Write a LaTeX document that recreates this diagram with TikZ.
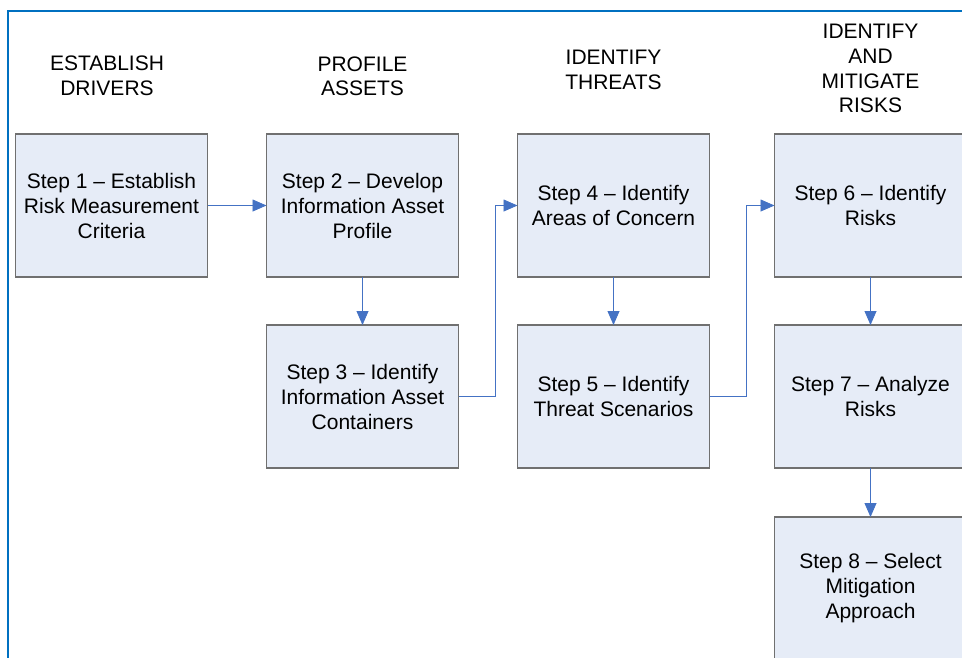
\documentclass[tikz,border=0pt]{standalone}
\usepackage{fontspec}
\setmainfont{Liberation Sans}
\usetikzlibrary{arrows.meta,positioning}
\definecolor{stepfill}{RGB}{230,236,247}
\definecolor{stepdraw}{RGB}{112,112,112}
\definecolor{arrblue}{RGB}{68,114,196}
\definecolor{frameblue}{RGB}{0,112,192}
\tikzset{
  stepbox/.style={draw=stepdraw, fill=stepfill, line width=1.2pt, align=center,
                  minimum width=192pt, minimum height=143pt, inner sep=2pt,
                  outer sep=0pt, font=\fontsize{21}{25}\selectfont},
  phase/.style  ={align=center, inner sep=0pt, text depth=0pt,
                  font=\fontsize{21}{24.7}\selectfont},
  arr/.style    ={-{Triangle[length=14pt,width=12pt]}, color=arrblue,
                  line width=0.8pt},
}

\begin{document}
\begin{tikzpicture}[x=1pt,y=-1pt]
  \useasboundingbox (0,0) rectangle (962,657);
  \clip (0,0) rectangle (962,657);
  \draw[frameblue, line width=2.2pt] (8,11) rectangle (1000,700);
  % steps
  \node[stepbox] (s1) at (111.5,205.5) {Step 1 – Establish\\Risk Measurement\\Criteria};
  \node[stepbox, right=59pt of s1] (s2) {Step 2 – Develop\\Information Asset\\Profile};
  \node[stepbox, below=48pt of s2] (s3) {Step 3 – Identify\\Information Asset\\Containers};
  \node[stepbox, right=59pt of s2] (s4) {Step 4 – Identify\\Areas of Concern};
  \node[stepbox, below=48pt of s4] (s5) {Step 5 – Identify\\Threat Scenarios};
  \node[stepbox, right=65pt of s4] (s6) {Step 6 – Identify\\Risks};
  \node[stepbox, below=48pt of s6] (s7) {Step 7 – Analyze\\Risks};
  \node[stepbox, below=49pt of s7] (s8) {Step 8 – Select\\Mitigation\\Approach};
  % phases
  \node[phase, above=38.3pt of s1, xshift=-4.5pt] (p1) {ESTABLISH\\DRIVERS};
  \node[phase, above=38pt of s2] (p2) {PROFILE\\ASSETS};
  \node[phase, above=44.7pt of s4] (p3) {IDENTIFY\\THREATS};
  \node[phase, above=21pt of s6] (p4) {IDENTIFY\\AND\\MITIGATE\\RISKS};
  % flow
  \draw[arr] (s1) -- (s2);
  \draw[arr] (s2) -- (s3);
  \draw[arr] (s3.east) -- ++(37,0) |- (s4.west);
  \draw[arr] (s4) -- (s5);
  \draw[arr] (s5.east) -- ++(37,0) |- (s6.west);
  \draw[arr] (s6) -- (s7);
  \draw[arr] (s7) -- (s8);
\end{tikzpicture}
\end{document}
